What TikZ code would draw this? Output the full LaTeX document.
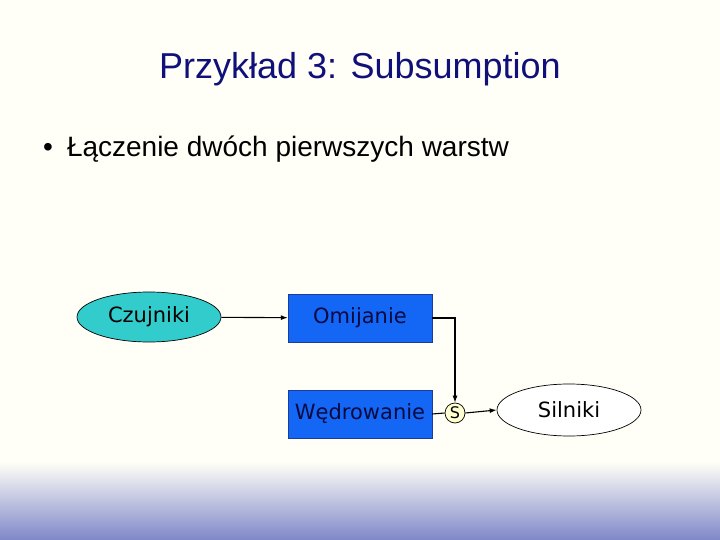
\documentclass[tikz,border=0pt]{standalone}
\usepackage{fontspec}
\setmainfont{Liberation Sans}
\newfontfamily\nodefont{DejaVu Sans}
\usetikzlibrary{shapes.geometric,arrows.meta}
\definecolor{bgcream}{HTML}{FFFFF7}
\definecolor{bgblue}{HTML}{7F87C9}
\definecolor{titleblue}{HTML}{10107A}
\definecolor{tealfill}{HTML}{33CCCC}
\definecolor{boxblue}{HTML}{1466F5}
\definecolor{boxedge}{HTML}{1A3C9C}
\definecolor{boxtext}{HTML}{0A0A40}
\definecolor{sfill}{HTML}{FFFFD2}
\tikzset{
  layerbox/.style={draw=boxedge, fill=boxblue, minimum width=144pt, minimum height=48pt, inner sep=0pt, text=boxtext, font=\nodefont\fontsize{21}{25}\selectfont},
  oval/.style={ellipse, draw=black, line width=0.7pt, minimum width=144pt, minimum height=50pt, inner sep=0pt, font=\nodefont\fontsize{21}{25}\selectfont},
  conn/.style={draw=black, line width=1.1pt},
  tip/.style={-{Latex[length=7pt,width=5pt]}}
}
\begin{document}
\begin{tikzpicture}[x=1pt,y=-1pt]
\useasboundingbox (0,0) rectangle (720,540);
\fill[bgcream] (0,0) rectangle (720,540);
\shade[top color=bgcream, bottom color=bgblue] (0,462) rectangle (720,540);

\node[text=titleblue, font=\fontsize{36}{42}\selectfont] (title) at (360,69) {Przykład 3: Subsumption};
\node[anchor=west, font=\fontsize{28}{33}\selectfont, inner sep=0pt] (bullet) at (43,149) {•\hspace{14pt}Łączenie dwóch pierwszych warstw};

\node[oval, fill=tealfill] (czuj) at (149,317) {Czujniki};
\node[layerbox] (omij) at (360,318) {Omijanie};
\node[layerbox] (wedr) at (360,414) {Wędrowanie};
\node[circle, draw=black, line width=0.7pt, fill=sfill, minimum size=20pt, inner sep=0pt, font=\nodefont\fontsize{16}{19}\selectfont] (s) at (455,413) {S};
\node[oval, fill=white, minimum height=52pt] (siln) at (569,410) {Silniki};

\draw[conn, tip] (czuj) -- (omij);
\draw[conn, tip] (omij.east) -- (s.north |- omij.east) -- (s.north);
\draw[conn] (wedr.east) -- (s.west);
\draw[conn, tip] (s.east) -- (siln.west);
\end{tikzpicture}
\end{document}
